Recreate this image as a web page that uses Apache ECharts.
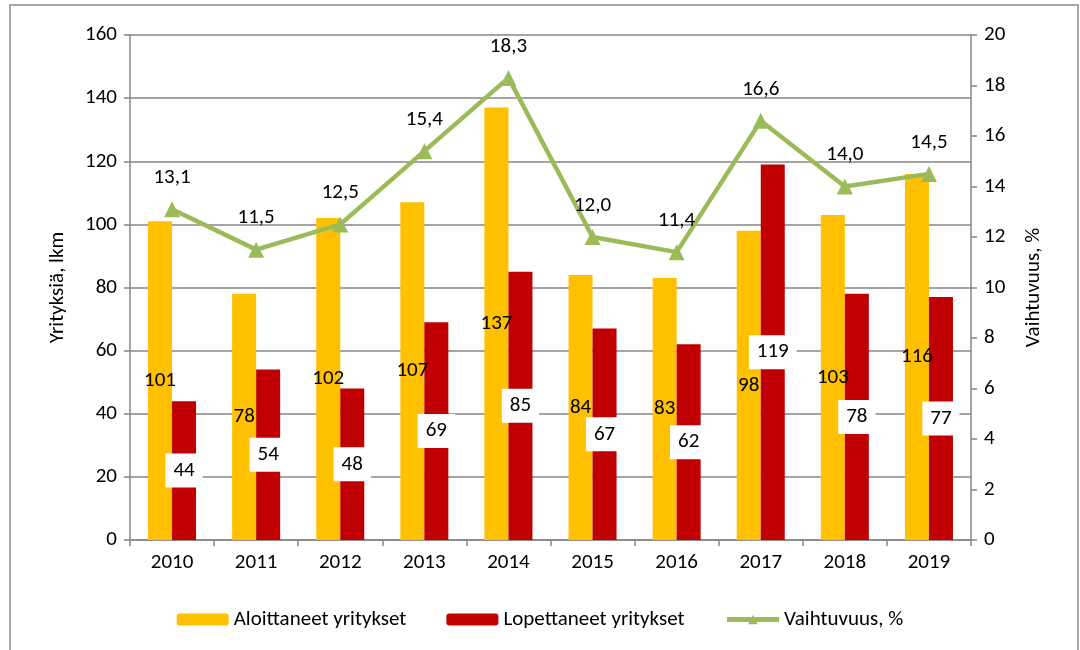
<!DOCTYPE html>
<html><head><meta charset="utf-8">
<script src="https://cdn.jsdelivr.net/npm/echarts@6/dist/echarts.min.js"></script>
<style>html,body{margin:0;padding:0;background:#fff}#c{width:1080px;height:650px}</style>
</head><body><div id="c"></div>
<script>
const years = ['2010','2011','2012','2013','2014','2015','2016','2017','2018','2019'];
const aloittaneet = [101,78,102,107,137,84,83,98,103,116];
const lopettaneet = [44,54,48,69,85,67,62,119,78,77];
const vaihtuvuus = [13.1,11.5,12.5,15.4,18.3,12.0,11.4,16.6,14.0,14.5];
const seriesNames = ['Aloittaneet yritykset','Lopettaneet yritykset','Vaihtuvuus, %'];
const leftAxisName = 'Yrityksiä, lkm';
const rightAxisName = 'Vaihtuvuus, %';

const FONT = 'Carlito, Lato, "Open Sans", sans-serif';
const FS = 21;
const GRAY = '#868686';
const GREEN = '#9BBB59';
const chart = echarts.init(document.getElementById('c'));
chart.setOption({
  animation: false,
  textStyle: {fontFamily: FONT},
  graphic: [{type:'rect', shape:{x:10,y:5,width:1068,height:660}, style:{fill:'none', stroke:'#8c8c8c', lineWidth:1.5}, silent:true}],
  grid: {left:130, right:109, top:35, bottom:110},
  legend: {
    top: 604, left: 'center', itemWidth: 52, itemHeight: 12, itemGap: 40,
    textStyle: {fontFamily: FONT, fontSize: FS, color:'#000'},
    data: [
      {name: seriesNames[0]},
      {name: seriesNames[1]},
      {name: seriesNames[2], lineStyle:{width:5, color:GREEN}, itemStyle:{color:GREEN}}
    ]
  },
  xAxis: {
    type: 'category', data: years,
    axisLine: {lineStyle:{color:GRAY, width:1.5}},
    axisTick: {show:true, alignWithLabel:false, length:6, lineStyle:{color:GRAY, width:1.5}},
    axisLabel: {color:'#000', fontSize:FS, fontFamily:FONT, margin:12}
  },
  yAxis: [{
    type:'value', min:0, max:160, interval:20,
    name: leftAxisName, nameLocation:'middle', nameRotate:90, nameGap:62,
    nameTextStyle:{color:'#000', fontSize:FS, fontFamily:FONT},
    axisLine:{show:true, lineStyle:{color:GRAY, width:1.5}},
    axisTick:{show:true, length:6, lineStyle:{color:GRAY, width:1.5}},
    axisLabel:{color:'#000', fontSize:FS, fontFamily:FONT, margin:13},
    splitLine:{lineStyle:{color:GRAY, width:1.5}}
  },{
    type:'value', min:0, max:20, interval:2,
    name: rightAxisName, nameLocation:'middle', nameRotate:90, nameGap:52,
    nameTextStyle:{color:'#000', fontSize:FS, fontFamily:FONT},
    axisLine:{show:true, lineStyle:{color:GRAY, width:1.5}},
    axisTick:{show:true, length:6, lineStyle:{color:GRAY, width:1.5}},
    axisLabel:{color:'#000', fontSize:FS, fontFamily:FONT, margin:13},
    splitLine:{show:false}
  }],
  series: [{
    name: seriesNames[0], type:'bar', data: aloittaneet, barWidth:24, barGap:'0%',
    itemStyle:{color:'#FFC000'},
    label:{show:true, position:'inside', color:'#000', fontSize:FS, fontFamily:FONT}
  },{
    name: seriesNames[1], type:'bar', data: lopettaneet, barWidth:24,
    itemStyle:{color:'#C00000'},
    label:{show:true, position:'inside', color:'#000', fontSize:FS, fontFamily:FONT,
      backgroundColor:'#fff', padding:[7,8,6,8]}
  },{
    name: seriesNames[2], type:'line', yAxisIndex:1, data: vaihtuvuus,
    symbol:'triangle', symbolSize:16,
    lineStyle:{color:GREEN, width:4.5},
    itemStyle:{color:GREEN},
    label:{show:true, position:'top', distance:13, color:'#000', fontSize:FS, fontFamily:FONT,
      formatter: p => p.value.toFixed(1).replace('.', ',')},
    z: 5
  }]
});
</script></body></html>
